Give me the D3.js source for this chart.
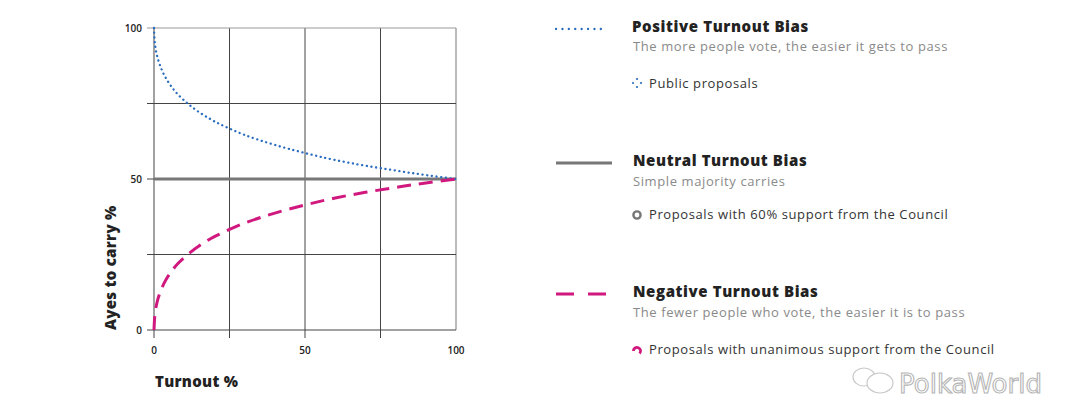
<!DOCTYPE html>
<html>
<head>
<meta charset="utf-8">
<script src="https://cdn.jsdelivr.net/npm/d3@7"></script>
<style>
  body { margin: 0; background: #fff; }
  svg { display: block; }
  .tick-label { font-family: "Open Sans", sans-serif; font-size: 10px; font-weight: 600; fill: #222; }
  .axis-title { font-family: "Open Sans", sans-serif; font-size: 15px; font-weight: 800; fill: #222; letter-spacing: 0.3px; }
  .leg-title { font-family: "Open Sans", sans-serif; font-size: 15px; font-weight: 800; fill: #222; letter-spacing: 0.6px; }
  .leg-sub { font-family: "Open Sans", sans-serif; font-size: 13px; fill: #8a8a8a; letter-spacing: 0.6px; }
  .leg-item { font-family: "Open Sans", sans-serif; font-size: 13px; fill: #333; letter-spacing: 0.6px; }
</style>
</head>
<body>
<svg id="chart" width="1080" height="398"></svg>
<script>
// values (turnout % -> ayes to carry %)
var turnout  = [0, 0.5, 1, 2, 4, 6, 8, 10, 15, 20, 25, 30, 40, 50, 60, 70, 80, 90, 100];
var positive = [100, 93.4, 90.9, 87.6, 83.3, 80.3, 77.9, 76.0, 72.1, 69.1, 66.7, 64.6, 61.3, 58.6, 56.3, 54.4, 52.8, 51.3, 50];
var negative = [0, 6.6, 9.1, 12.4, 16.7, 19.7, 22.1, 24.0, 27.9, 30.9, 33.3, 35.4, 38.7, 41.4, 43.7, 45.6, 47.2, 48.7, 50];
var neutral  = [50, 50];
var neutralX = [0, 100];

var gridTicks = [0, 25, 50, 75, 100];
var labelTicks = [0, 50, 100];

var legendItems = [
    { key: "positive", title: "Positive Turnout Bias", sub: "The more people vote, the easier it gets to pass", item: "Public proposals" },
    { key: "neutral", title: "Neutral Turnout Bias", sub: "Simple majority carries", item: "Proposals with 60% support from the Council" },
    { key: "negative", title: "Negative Turnout Bias", sub: "The fewer people who vote, the easier it is to pass", item: "Proposals with unanimous support from the Council" }
];

var blue = "#2a6cc0", pink = "#d0187f", gray = "#777";

var svg = d3.select("#chart");

var x = d3.scaleLinear().domain([0, 100]).range([154, 456]);
var y = d3.scaleLinear().domain([0, 100]).range([330, 28]);

// grid
var grid = svg.append("g");
grid.selectAll(".vgrid")
    .data(gridTicks)
    .enter().append("line")
    .attr("x1", d => x(d)).attr("x2", d => x(d))
    .attr("y1", y(100)).attr("y2", d => d == 100 ? y(0) : y(0) + 8)
    .attr("stroke", d => d == 100 ? "#aaa" : "#444")
    .attr("stroke-width", d => d == 100 ? 1.6 : 1);

grid.selectAll(".hgrid")
    .data(gridTicks)
    .enter().append("line")
    .attr("x1", x(0) - 7).attr("x2", x(100))
    .attr("y1", d => y(d)).attr("y2", d => y(d))
    .attr("stroke", d => d == 100 ? "#999" : "#444")
    .attr("stroke-width", 1);

// tick labels
svg.selectAll(".ylab")
    .data(labelTicks)
    .enter().append("text")
    .attr("class", "tick-label")
    .attr("x", 142)
    .attr("y", d => y(d) + 3.5)
    .attr("text-anchor", "end")
    .text(d => d);

svg.selectAll(".xlab")
    .data(labelTicks)
    .enter().append("text")
    .attr("class", "tick-label")
    .attr("x", d => x(d))
    .attr("y", 354)
    .attr("text-anchor", "middle")
    .text(d => d);

// axis titles
svg.append("text")
    .attr("class", "axis-title")
    .attr("transform", "translate(116,330) rotate(-90)")
    .attr("text-anchor", "start")
    .text("Ayes to carry %");

svg.append("text")
    .attr("class", "axis-title")
    .attr("x", 155).attr("y", 387)
    .text("Turnout %");

// lines
var line = d3.line()
    .x(d => x(d[0]))
    .y(d => y(d[1]))
    .curve(d3.curveMonotoneX);

svg.append("path")
    .datum(d3.zip(neutralX, neutral))
    .attr("d", line)
    .attr("fill", "none")
    .attr("stroke", gray)
    .attr("stroke-width", 3);

svg.append("path")
    .datum(d3.zip(turnout, positive))
    .attr("d", d3.line().x(d => x(d[0])).y(d => y(d[1])).curve(d3.curveMonotoneY))
    .attr("fill", "none")
    .attr("stroke", blue)
    .attr("stroke-width", 2.3)
    .attr("stroke-linecap", "round")
    .attr("stroke-dasharray", "0.1 4.6");

svg.append("path")
    .datum(d3.zip(turnout, negative))
    .attr("d", d3.line().x(d => x(d[0])).y(d => y(d[1])).curve(d3.curveMonotoneY))
    .attr("fill", "none")
    .attr("stroke", pink)
    .attr("stroke-width", 3)
    .attr("stroke-dasharray", "14 8");

// legend
var legY = [29, 163, 294];
var legend = svg.selectAll(".legend")
    .data(legendItems)
    .enter().append("g")
    .attr("transform", (d, i) => "translate(0," + legY[i] + ")");

legend.append("line")
    .attr("x1", 556)
    .attr("x2", d => d.key == "neutral" ? 612 : 607)
    .attr("y1", 0).attr("y2", 0)
    .attr("stroke", d => d.key == "positive" ? blue : d.key == "neutral" ? gray : pink)
    .attr("stroke-width", d => d.key == "positive" ? 2.3 : 3)
    .attr("stroke-linecap", d => d.key == "positive" ? "round" : "butt")
    .attr("stroke-dasharray", d => d.key == "positive" ? "0.1 6.3" : d.key == "negative" ? "18 14" : null);

legend.append("text")
    .attr("class", "leg-title")
    .attr("x", d => d.key == "positive" ? 632 : 633)
    .attr("y", 3)
    .text(d => d.title);

legend.append("text")
    .attr("class", "leg-sub")
    .attr("x", 633)
    .attr("y", d => d.key == "positive" ? 22 : 23)
    .text(d => d.sub);

legend.append("text")
    .attr("class", "leg-item")
    .attr("x", 649)
    .attr("y", (d, i) => [59, 56, 60][i])
    .text(d => d.item);

// bullet icons
var b0 = legend.filter(d => d.key == "positive").append("g").attr("transform", "translate(637,54)");
b0.selectAll("circle")
    .data([[0, -4], [4, 0], [0, 4], [-4, 0]])
    .enter().append("circle")
    .attr("cx", d => d[0]).attr("cy", d => d[1])
    .attr("r", 1.1)
    .attr("fill", blue);

legend.filter(d => d.key == "neutral").append("circle")
    .attr("cx", 637).attr("cy", 52)
    .attr("r", 3.6)
    .attr("fill", "none")
    .attr("stroke", gray)
    .attr("stroke-width", 2.4);

legend.filter(d => d.key == "negative").append("path")
    .attr("transform", "translate(637,57)")
    .attr("d", d3.arc().innerRadius(2.2).outerRadius(5).startAngle(-Math.PI / 2).endAngle(Math.PI * 0.75)())
    .attr("fill", pink);

// watermark
var wm = svg.append("g").attr("transform", "translate(850,381)");
wm.append("ellipse").attr("cx", 14).attr("cy", -4).attr("rx", 11).attr("ry", 9)
    .attr("fill", "none").attr("stroke", "#c8c8c8").attr("stroke-width", 1.2);
wm.append("ellipse").attr("cx", 30).attr("cy", 2).attr("rx", 13).attr("ry", 10)
    .attr("fill", "#fff").attr("stroke", "#c8c8c8").attr("stroke-width", 1.2);
wm.append("text")
    .attr("x", 49).attr("y", 12)
    .attr("font-family", "DejaVu Sans, sans-serif")
    .attr("font-size", 26)
    .attr("fill", "#fff")
    .attr("stroke", "#b5b5b5")
    .attr("stroke-width", 1.1)
    .text("PolkaWorld");
</script>
</body>
</html>
